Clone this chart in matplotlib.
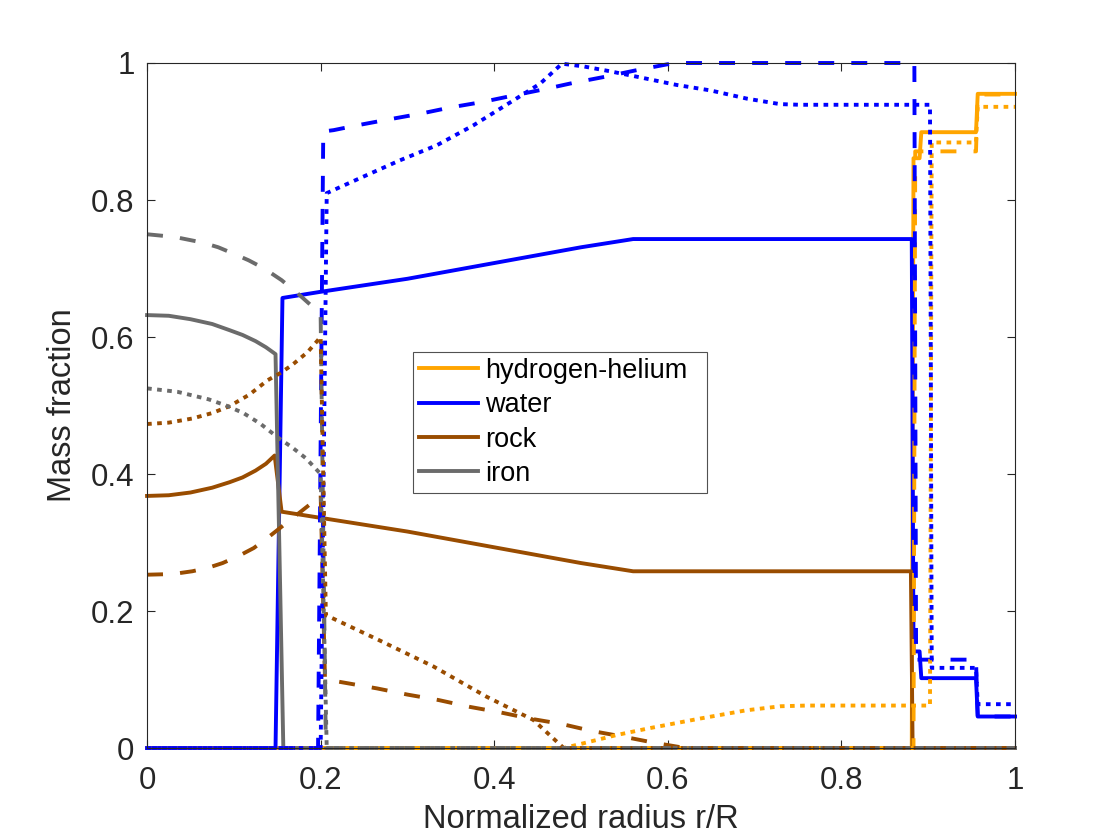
import numpy as np
import matplotlib
matplotlib.use('Agg')
import matplotlib.pyplot as plt
from matplotlib.ticker import FixedLocator, FixedFormatter

plt.rcParams['font.family'] = ['Liberation Sans', 'DejaVu Sans']

# Composition profiles (r/R, mass fraction)
# solid model
hhe_solid_r = [0, 0.881, 0.883, 0.890, 0.892, 0.955, 0.957, 1.0]
hhe_solid = [0, 0, 0.861, 0.861, 0.899, 0.899, 0.955, 0.955]
water_solid_r = [0, 0.148, 0.156, 0.2, 0.3, 0.4, 0.5, 0.56, 0.881, 0.883, 0.890, 0.892, 0.955, 0.957, 1.0]
water_solid = [0, 0, 0.657, 0.666, 0.685, 0.708, 0.731, 0.743, 0.743, 0.141, 0.141, 0.102, 0.102, 0.046, 0.046]
rock_solid_r = [0, 0.025, 0.05, 0.075, 0.095, 0.11, 0.125, 0.137, 0.147, 0.155, 0.2, 0.3, 0.4, 0.5,
                0.56, 0.880, 0.882, 1.0]
rock_solid = [0.368, 0.369, 0.373, 0.380, 0.388, 0.395, 0.405, 0.415, 0.427, 0.345, 0.336, 0.316,
              0.293, 0.270, 0.258, 0.258, 0, 0]
iron_solid_r = [0, 0.025, 0.05, 0.075, 0.095, 0.11, 0.125, 0.137, 0.148, 0.157, 1.0]
iron_solid = [0.632, 0.631, 0.626, 0.619, 0.610, 0.603, 0.594, 0.585, 0.575, 0, 0]

# dashed model
hhe_dash_r = [0, 0.883, 0.885, 0.955, 0.957, 1.0]
hhe_dash = [0, 0, 0.871, 0.871, 0.954, 0.954]
water_dash_r = [0, 0.197, 0.203, 0.215, 0.242, 0.28, 0.315, 0.349, 0.386, 0.42, 0.455, 0.491,
                0.528, 0.562, 0.599, 0.61, 0.884, 0.886, 0.955, 0.957, 1.0]
water_dash = [0, 0, 0.900, 0.902, 0.909, 0.918, 0.926, 0.935, 0.943, 0.952, 0.961, 0.971,
              0.980, 0.989, 0.998, 1.0, 1.0, 0.129, 0.129, 0.046, 0.046]
rock_dash_r = [0, 0.03, 0.052, 0.07, 0.087, 0.105, 0.123, 0.14, 0.159, 0.178, 0.197, 0.200, 0.205,
               0.22, 0.265, 0.3, 0.336, 0.372, 0.407, 0.441, 0.478, 0.512, 0.547, 0.583, 0.62, 1.0]
rock_dash = [0.253, 0.254, 0.258, 0.263, 0.270, 0.280, 0.292, 0.308, 0.327, 0.346, 0.365, 0.370, 0.100,
             0.097, 0.087, 0.078, 0.070, 0.060, 0.052, 0.043, 0.035, 0.025, 0.017, 0.008, 0, 0]
iron_dash_r = [0, 0.032, 0.0635, 0.082, 0.099, 0.117, 0.135, 0.155, 0.175, 0.19, 0.200, 0.206, 1.0]
iron_dash = [0.750, 0.746, 0.738, 0.731, 0.722, 0.712, 0.700, 0.683, 0.662, 0.645, 0.630, 0, 0]

# dotted model
hhe_dot_r = [0, 0.48, 0.503, 0.541, 0.579, 0.637, 0.69, 0.73, 0.76, 0.902, 0.904, 0.955, 0.957, 1.0]
hhe_dot = [0, 0, 0.007, 0.019, 0.029, 0.043, 0.055, 0.061, 0.062, 0.062, 0.884, 0.884, 0.936, 0.936]
water_dot_r = [0, 0.200, 0.207, 0.249, 0.2915, 0.334, 0.376, 0.414, 0.453, 0.478, 0.503, 0.533,
               0.572, 0.61, 0.649, 0.691, 0.729, 0.752, 0.902, 0.904, 0.955, 0.957, 1.0]
water_dot = [0, 0, 0.810, 0.834, 0.858, 0.880, 0.909, 0.939, 0.970, 0.999, 0.995, 0.988,
             0.978, 0.968, 0.960, 0.948, 0.940, 0.939, 0.939, 0.117, 0.117, 0.064, 0.064]
rock_dot_r = [0, 0.025, 0.052, 0.075, 0.095, 0.118, 0.139, 0.153, 0.167, 0.185, 0.200, 0.206,
              0.268, 0.33, 0.391, 0.445, 0.48, 1.0]
rock_dot = [0.473, 0.475, 0.481, 0.489, 0.499, 0.516, 0.537, 0.547, 0.559, 0.578, 0.600, 0.194,
            0.157, 0.119, 0.075, 0.041, 0, 0]
iron_dot_r = [0, 0.035, 0.071, 0.091, 0.111, 0.131, 0.151, 0.167, 0.183, 0.200, 0.207, 1.0]
iron_dot = [0.525, 0.520, 0.509, 0.500, 0.489, 0.473, 0.453, 0.439, 0.423, 0.400, 0, 0]

labels = ['hydrogen-helium', 'water', 'rock', 'iron']
colors = ['#FFA500', '#0000FF', '#994C00', '#6B6B6B']
tick_vals = [0, 0.2, 0.4, 0.6, 0.8, 1]
tick_text = ['0', '0.2', '0.4', '0.6', '0.8', '1']

models = [
    ('-', [(hhe_solid_r, hhe_solid), (water_solid_r, water_solid),
           (rock_solid_r, rock_solid), (iron_solid_r, iron_solid)]),
    ((0, (4.1, 4.4)), [(hhe_dash_r, hhe_dash), (water_dash_r, water_dash),
                       (rock_dash_r, rock_dash), (iron_dash_r, iron_dash)]),
    ((0, (1.2, 1.4)), [(hhe_dot_r, hhe_dot), (water_dot_r, water_dot),
                       (rock_dot_r, rock_dot), (iron_dot_r, iron_dot)]),
]

fig = plt.figure(figsize=(11.2, 8.4), dpi=100)
ax = fig.add_axes([0.1313, 0.1095, 0.775, 0.8155])

axcol = '#262626'
handles = []
for k, (ls, series) in enumerate(models):
    for i, (r, f) in enumerate(series):
        line, = ax.plot(r, f, color=colors[i], linestyle=ls, linewidth=2.8,
                        clip_on=False, label=labels[i] if k == 0 else None)
        if k == 0:
            handles.append(line)

ax.set_xlim(0, 1)
ax.set_ylim(0, 1)
ax.xaxis.set_major_locator(FixedLocator(tick_vals))
ax.xaxis.set_major_formatter(FixedFormatter(tick_text))
ax.yaxis.set_major_locator(FixedLocator(tick_vals))
ax.yaxis.set_major_formatter(FixedFormatter(tick_text))
ax.tick_params(direction='in', top=True, right=True, length=5.8, width=0.8,
               labelsize=22.5, colors=axcol)
ax.tick_params(axis='x', pad=13)
ax.tick_params(axis='y', pad=9)
for sp in ax.spines.values():
    sp.set_linewidth(0.8)
    sp.set_color(axcol)

ax.set_xlabel('Normalized radius r/R', fontsize=23.5, color=axcol, labelpad=6)
ax.set_ylabel('Mass fraction', fontsize=23.5, color=axcol, labelpad=9)

leg = ax.legend(handles=handles, loc='lower left', bbox_to_anchor=(0.306, 0.372, 0.339, 0.208),
                mode='expand', fontsize=19.5, frameon=True, fancybox=False,
                handlelength=2.2, handletextpad=0.25, labelspacing=0.31,
                borderpad=0.23, borderaxespad=0)
leg.get_frame().set_edgecolor(axcol)
leg.get_frame().set_linewidth(0.8)

fig.savefig('out.png', dpi=100)
